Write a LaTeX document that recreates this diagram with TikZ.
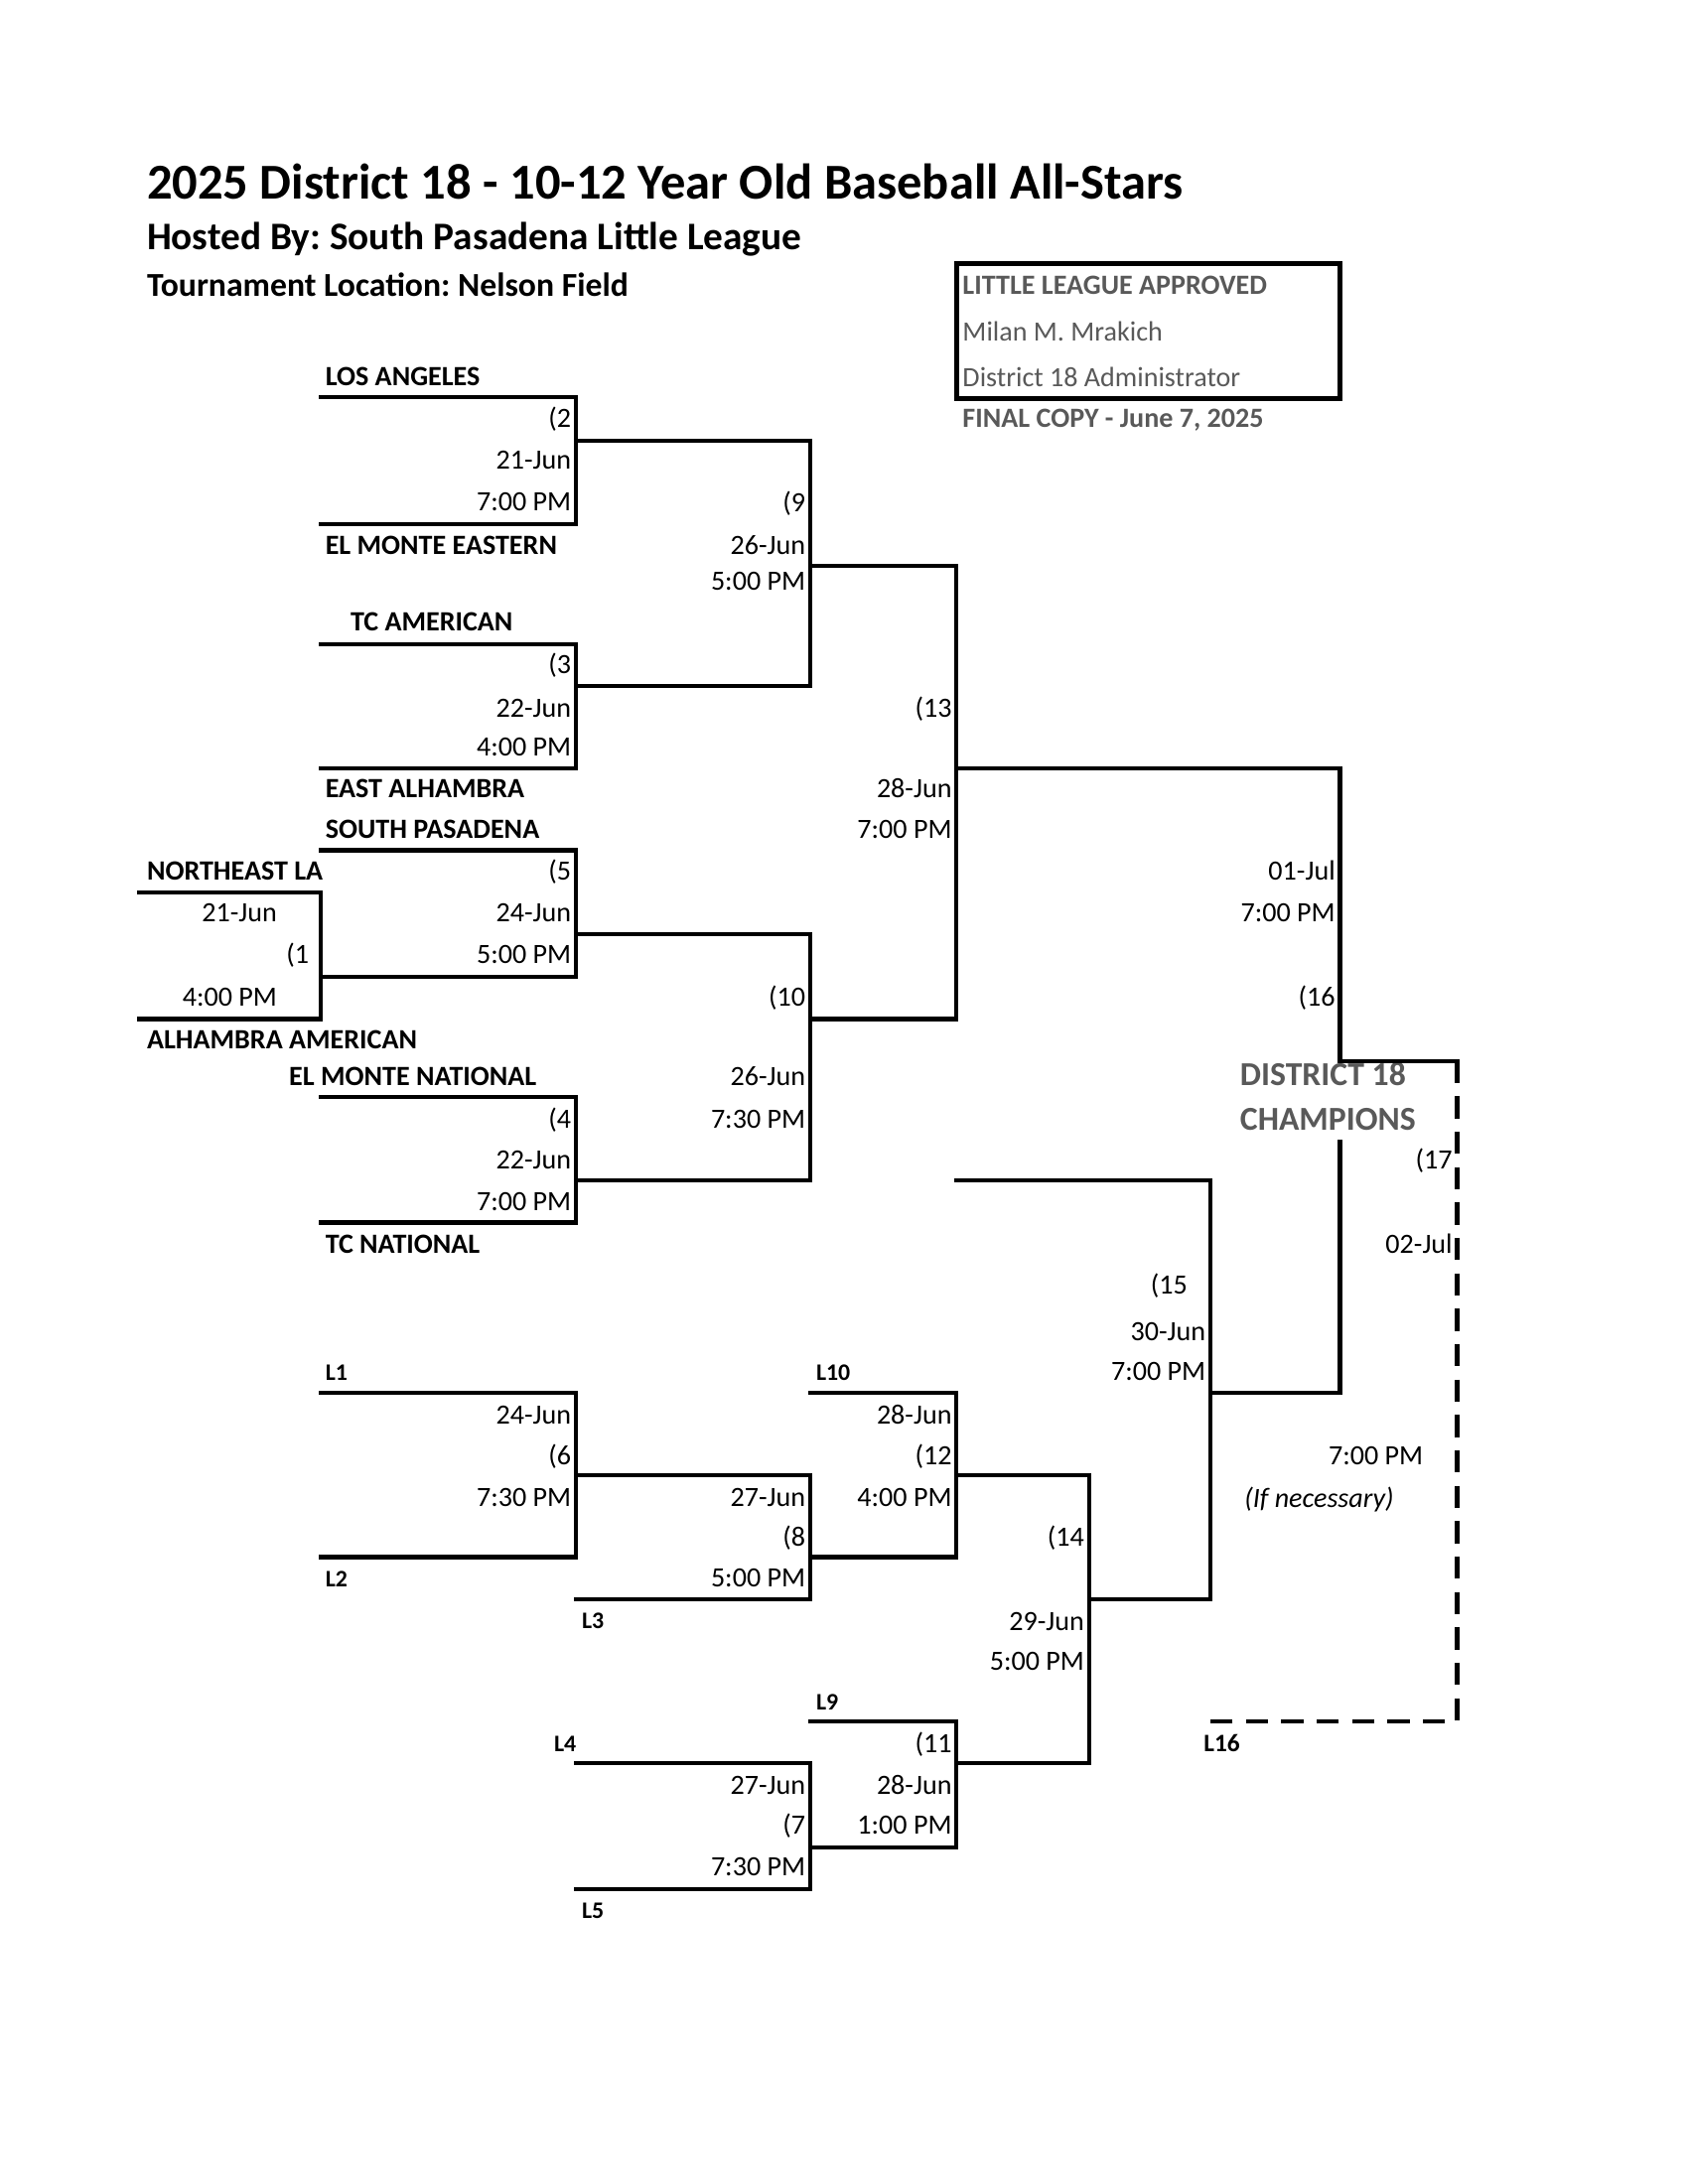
\documentclass[tikz,border=0pt]{standalone}
\usepackage{fontspec}
\setmainfont{Carlito}
\frenchspacing
\definecolor{txtgray}{HTML}{595959}
\begin{document}
\begin{tikzpicture}[x=0.5pt,y=-0.5pt,
  line/.style={line width=1.5pt,line join=miter,line cap=rect},
  dline/.style={line width=1.6pt,dash pattern=on 8pt off 4.7pt},
  lbl/.style={font=\fontsize{10}{12}\selectfont,inner sep=0pt,anchor=east,text height=6.4pt,text depth=0pt},
  team/.style={font=\fontsize{10}{12}\selectfont\bfseries,inner sep=0pt,anchor=west,text height=6.4pt,text depth=0pt},
  lose/.style={font=\fontsize{8.5}{10}\selectfont\bfseries,inner sep=0pt,anchor=west,text height=5.5pt,text depth=0pt},
  boxtxt/.style={font=\fontsize{10}{12}\selectfont,text=txtgray,inner sep=0pt,anchor=west,text height=6.4pt,text depth=0pt},
  champ/.style={font=\fontsize{12}{14}\selectfont\bfseries,text=txtgray,inner sep=0pt,anchor=west,text height=7.7pt,text depth=0pt},
  ttl/.style={inner sep=0pt,anchor=west,text depth=0pt}]
\useasboundingbox (0,0) rectangle (1210.7,1566.7);
% titles
\node[ttl,font=\fontsize{18}{22}\selectfont\bfseries,text height=11.6pt] (title) at (105,131) {2025 District 18 - 10-12 Year Old Baseball All-Stars};
\node[ttl,font=\fontsize{14}{17}\selectfont\bfseries,text height=9pt] (host) at (105,170) {Hosted By: South Pasadena Little League};
\node[ttl,font=\fontsize{12}{14}\selectfont\bfseries,text height=7.7pt] (loc) at (105,205) {Tournament Location: Nelson Field};
% approval box
\draw[line width=1.6pt] (686,189) rectangle (961,286);
\node[boxtxt,font=\fontsize{10}{12}\selectfont\bfseries] (appr) at (690,205) {LITTLE LEAGUE APPROVED};
\node[boxtxt] (name) at (690,238) {Milan M. Mrakich};
\node[boxtxt] (admin) at (690,271) {District 18 Administrator};
\node[boxtxt,font=\fontsize{10}{12}\selectfont\bfseries] (final) at (690,300) {FINAL COPY - June 7, 2025};
% teams
\node[team] (t1) at (233,270) {LOS ANGELES};
\node[team] (t2) at (233,391) {EL MONTE EASTERN};
\node[team] (t3) at (251,446) {TC AMERICAN};
\node[team] (t4) at (233,566) {EAST ALHAMBRA};
\node[team] (t5) at (233,595) {SOUTH PASADENA};
\node[team] (t6) at (105,625) {NORTHEAST LA};
\node[team] (t7) at (105,746) {ALHAMBRA AMERICAN};
\node[team] (t8) at (207,772) {EL MONTE NATIONAL};
\node[team] (t9) at (233,893) {TC NATIONAL};
% loser labels
\node[lose] (l1) at (233,985) {L1};
\node[lose] (l2) at (233,1133) {L2};
\node[lose] (l3) at (417,1163) {L3};
\node[lose] (l10) at (585,985) {L10};
\node[lose] (l9) at (585,1221) {L9};
\node[lose] (l4) at (397,1251) {L4};
\node[lose] (l5) at (417,1371) {L5};
\node[lose,font=\fontsize{9}{10}\selectfont\bfseries] (l16) at (863,1251) {L16};
% game 2
\node[lbl] (g2a) at (410,300) {(2};
\node[lbl] (g2b) at (410,330) {21-Jun};
\node[lbl] (g2c) at (410,360) {7:00 PM};
% game 9
\node[lbl] (g9a) at (578,361) {(9};
\node[lbl] (g9b) at (578,391) {26-Jun};
\node[lbl] (g9c) at (578,417) {5:00 PM};
% game 3
\node[lbl] (g3a) at (410,477) {(3};
\node[lbl] (g3b) at (410,508) {22-Jun};
\node[lbl] (g3c) at (410,536) {4:00 PM};
% game 13
\node[lbl] (g13a) at (683,508) {(13};
\node[lbl] (g13b) at (683,566) {28-Jun};
\node[lbl] (g13c) at (683,595) {7:00 PM};
% game 5
\node[lbl] (g5a) at (410,625) {(5};
\node[lbl] (g5b) at (410,655) {24-Jun};
\node[lbl] (g5c) at (410,685) {5:00 PM};
% game 1
\node[lbl] (g1b) at (199,655) {21-Jun};
\node[lbl] (g1a) at (222,685) {(1};
\node[lbl] (g1c) at (199,715) {4:00 PM};
% game 10
\node[lbl] (g10a) at (578,715) {(10};
\node[lbl] (g10b) at (578,772) {26-Jun};
\node[lbl] (g10c) at (578,803) {7:30 PM};
% game 4
\node[lbl] (g4a) at (410,803) {(4};
\node[lbl] (g4b) at (410,832) {22-Jun};
\node[lbl] (g4c) at (410,862) {7:00 PM};
% game 16
\node[lbl] (g16b) at (958,625) {01-Jul};
\node[lbl] (g16c) at (958,655) {7:00 PM};
\node[lbl] (g16a) at (958,715) {(16};
\node[champ] (ch1) at (889,771) {DISTRICT 18};
\node[champ] (ch2) at (889,803) {CHAMPIONS};
% game 17
\node[lbl] (g17a) at (1042,832) {(17};
\node[lbl] (g17b) at (1042,893) {02-Jul};
\node[lbl] (g17c) at (1021,1044) {7:00 PM};
\node[lbl,font=\fontsize{10}{12}\selectfont\itshape] (g17d) at (1000,1075) {(If necessary)};
% game 15
\node[lbl] (g15a) at (852,922) {(15};
\node[lbl] (g15b) at (865,955) {30-Jun};
\node[lbl] (g15c) at (865,984) {7:00 PM};
% game 6
\node[lbl] (g6b) at (410,1015) {24-Jun};
\node[lbl] (g6a) at (410,1044) {(6};
\node[lbl] (g6c) at (410,1074) {7:30 PM};
% game 8
\node[lbl] (g8b) at (578,1074) {27-Jun};
\node[lbl] (g8a) at (578,1103) {(8};
\node[lbl] (g8c) at (578,1132) {5:00 PM};
% game 12
\node[lbl] (g12b) at (683,1015) {28-Jun};
\node[lbl] (g12a) at (683,1044) {(12};
\node[lbl] (g12c) at (683,1074) {4:00 PM};
% game 14
\node[lbl] (g14a) at (778,1103) {(14};
\node[lbl] (g14b) at (778,1163) {29-Jun};
\node[lbl] (g14c) at (778,1192) {5:00 PM};
% game 11
\node[lbl] (g11a) at (683,1251) {(11};
\node[lbl] (g11b) at (683,1281) {28-Jun};
\node[lbl] (g11c) at (683,1309) {1:00 PM};
% game 7
\node[lbl] (g7b) at (578,1281) {27-Jun};
\node[lbl] (g7a) at (578,1309) {(7};
\node[lbl] (g7c) at (578,1339) {7:30 PM};
% bracket lines
\draw[line] (230,285) -- (413,285) -- (413,376) -- (230,376);
\draw[line] (413,316) -- (581,316);
\draw[line] (230,462) -- (413,462) -- (413,551) -- (230,551);
\draw[line] (413,492) -- (581,492);
\draw[line] (581,316) -- (581,492);
\draw[line] (581,406) -- (686,406);
\draw[line] (100,640) -- (230,640) -- (230,731) -- (100,731);
\draw[line] (230,701) -- (413,701);
\draw[line] (230,610) -- (413,610) -- (413,701);
\draw[line] (413,670) -- (581,670);
\draw[line] (230,787) -- (413,787) -- (413,877) -- (230,877);
\draw[line] (413,847) -- (581,847);
\draw[line] (581,670) -- (581,847);
\draw[line] (581,731) -- (686,731);
\draw[line] (686,406) -- (686,731);
\draw[line] (686,551) -- (961,551) -- (961,761) -- (1045,761);
\draw[dline] (1045,761) -- (1045,1235) -- (868,1235);
\draw[line] (686,847) -- (868,847) -- (868,1147);
\draw[line] (868,999) -- (961,999) -- (961,819);
\draw[line] (230,999) -- (413,999) -- (413,1117) -- (230,1117);
\draw[line] (413,1058) -- (581,1058);
\draw[line] (413,1147) -- (581,1147) -- (581,1058);
\draw[line] (581,1117) -- (686,1117);
\draw[line] (581,999) -- (686,999) -- (686,1117);
\draw[line] (686,1058) -- (781,1058);
\draw[line] (581,1235) -- (686,1235) -- (686,1325);
\draw[line] (686,1265) -- (781,1265);
\draw[line] (413,1265) -- (581,1265) -- (581,1355) -- (413,1355);
\draw[line] (581,1325) -- (686,1325);
\draw[line] (781,1058) -- (781,1265);
\draw[line] (781,1147) -- (868,1147);
\end{tikzpicture}
\end{document}
